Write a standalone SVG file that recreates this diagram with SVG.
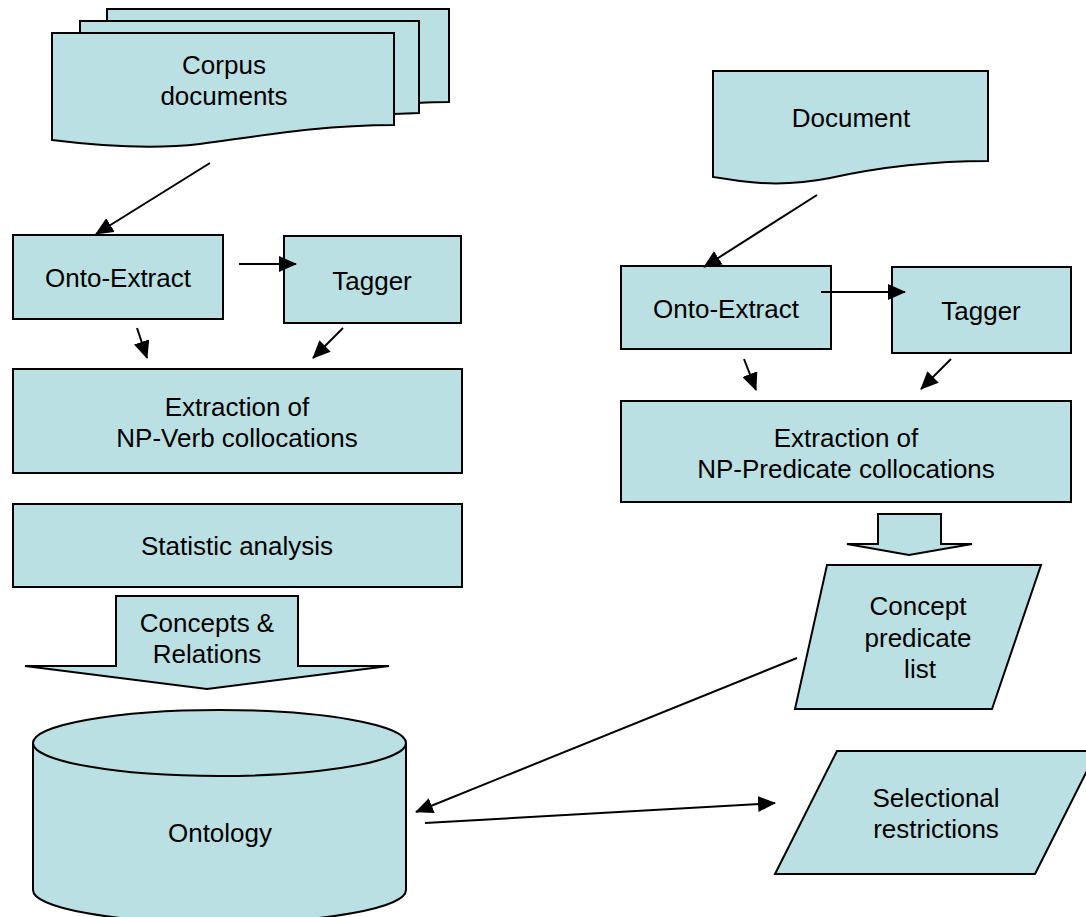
<svg xmlns="http://www.w3.org/2000/svg" width="1086" height="917" viewBox="0 0 1086 917">
<style>
.s{fill:#BBE0E3;stroke:#000;stroke-width:2;stroke-linejoin:miter}
.t{font-family:"Liberation Sans",Arial,sans-serif;font-size:26px;fill:#000;text-anchor:middle}
.c{stroke:#000;stroke-width:2;fill:none}
</style>
<defs>
<marker id="ah" markerWidth="18" markerHeight="16" refX="17" refY="8" orient="auto" markerUnits="userSpaceOnUse">
<path d="M0,0 L18,8 L0,16 Z" fill="#000"/>
</marker>
</defs>
<rect width="1086" height="917" fill="#fff"/>

<g id="corpus">
<path class="s" d="M107,9 H449 V102 C430,102 425,102 419,103 L419,30 L107,30 Z"/>
<path class="s" d="M80,21 H419 V113 L394,114 L394,33 L80,33 Z"/>
<path class="s" d="M52,33 H394 V125 C320,125 260,136 200,144 C150,150 100,146 52,140 Z"/>
<text class="t" x="224" y="74">Corpus</text>
<text class="t" x="224" y="105">documents</text>
</g>

<g id="onto-left">
<rect class="s" x="13" y="235" width="210" height="84"/>
<text class="t" x="118" y="287">Onto-Extract</text>
</g>
<g id="tagger-left">
<rect class="s" x="284" y="236" width="177" height="87"/>
<text class="t" x="372" y="290">Tagger</text>
</g>
<g id="extract-left">
<rect class="s" x="13" y="369" width="449" height="104"/>
<text class="t" x="237" y="416">Extraction of</text>
<text class="t" x="237" y="447">NP-Verb collocations</text>
</g>
<g id="statistic">
<rect class="s" x="13" y="504" width="449" height="83"/>
<text class="t" x="237" y="555">Statistic analysis</text>
</g>
<g id="concepts-relations">
<path class="s" d="M116,596 H298 V666 H389 L207,689 L25,666 H116 Z"/>
<text class="t" x="207" y="632">Concepts &amp;</text>
<text class="t" x="207" y="663">Relations</text>
</g>
<g id="ontology">
<path class="s" d="M33,743 V890 A186.5,33 0 0 0 406,890 V743"/>
<ellipse class="s" cx="219.5" cy="743" rx="186.5" ry="33"/>
<text class="t" x="220" y="842">Ontology</text>
</g>

<g id="document">
<path class="s" d="M713,71 H988 V161 C930,161 880,167 830,178 C800,184 770,185 740,181 L713,177 Z"/>
<text class="t" x="851" y="127">Document</text>
</g>
<g id="onto-right">
<rect class="s" x="621" y="266" width="210" height="83"/>
<text class="t" x="726" y="318">Onto-Extract</text>
</g>
<g id="tagger-right">
<rect class="s" x="892" y="267" width="179" height="86"/>
<text class="t" x="981" y="320">Tagger</text>
</g>
<g id="extract-right">
<rect class="s" x="621" y="401" width="450" height="101"/>
<text class="t" x="846" y="447">Extraction of</text>
<text class="t" x="846" y="478">NP-Predicate collocations</text>
</g>
<g id="small-arrow">
<path class="s" d="M878,514 H941 V544 H972 L909,555 L847,544 H878 Z"/>
</g>
<g id="concept-list">
<path class="s" d="M827,565 H1041 L992,709 H795 Z"/>
<text class="t" x="918" y="615">Concept</text>
<text class="t" x="918" y="647">predicate</text>
<text class="t" x="920" y="678">list</text>
</g>
<g id="selectional">
<path class="s" d="M837,751 H1097 L1035,874 H775 Z"/>
<text class="t" x="936" y="807">Selectional</text>
<text class="t" x="936" y="838">restrictions</text>
</g>

<g id="connectors">
<line class="c" x1="210" y1="163" x2="96" y2="234" marker-end="url(#ah)"/>
<line class="c" x1="239" y1="264" x2="296" y2="264" marker-end="url(#ah)"/>
<line class="c" x1="137" y1="328" x2="147" y2="358" marker-end="url(#ah)"/>
<line class="c" x1="343" y1="328" x2="313" y2="358" marker-end="url(#ah)"/>
<line class="c" x1="817" y1="195" x2="704" y2="267" marker-end="url(#ah)"/>
<line class="c" x1="821" y1="292" x2="905" y2="292" marker-end="url(#ah)"/>
<line class="c" x1="744" y1="359" x2="756" y2="390" marker-end="url(#ah)"/>
<line class="c" x1="951" y1="359" x2="921" y2="389" marker-end="url(#ah)"/>
<line class="c" x1="797" y1="658" x2="416" y2="812" marker-end="url(#ah)"/>
<line class="c" x1="425" y1="823" x2="775" y2="803" marker-end="url(#ah)"/>
</g>
</svg>
